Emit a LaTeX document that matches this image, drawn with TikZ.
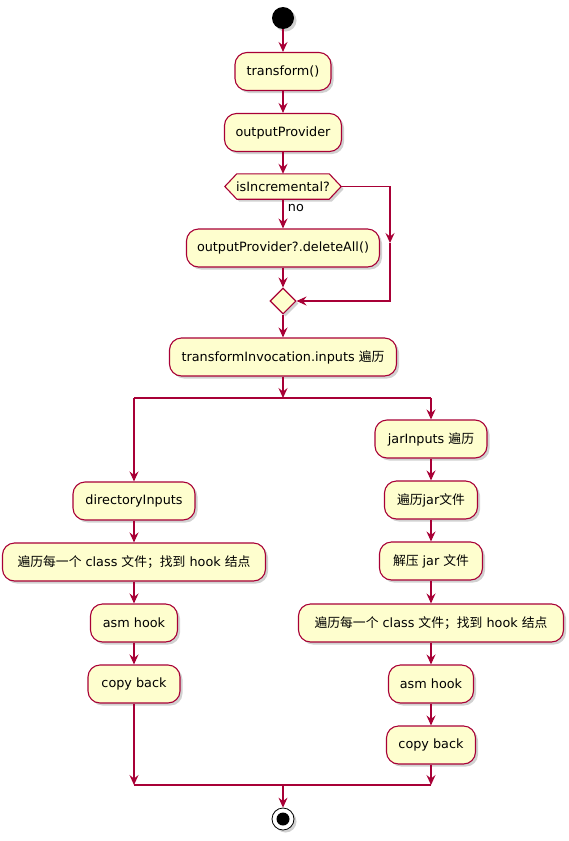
\documentclass[tikz,border=0pt]{standalone}
\usepackage{fontspec}
\setmainfont{DejaVu Sans}
\newfontfamily\cjk{Noto Sans CJK SC}
\usetikzlibrary{arrows.meta,shapes.geometric,shadows,calc}
\definecolor{umlfill}{HTML}{FEFECE}
\definecolor{umlline}{HTML}{A80036}
\pgfdeclarelayer{bg}
\pgfsetlayers{bg,main}
\tikzset{
  x=1pt,y=1pt,
  txt/.style={font=\fontsize{12.8}{14}\selectfont},
  shad/.style={drop shadow={shadow xshift=2.5pt,shadow yshift=-2.5pt,fill=black!40,opacity=0.45}},
  act/.style={draw=umlline,fill=umlfill,line width=1.1pt,rounded corners=12pt,
    minimum height=38pt,inner sep=0pt,txt,shad},
  arr/.style={draw=umlline,line width=1.1pt,-{Stealth[length=10pt,width=9pt,inset=3.5pt]}},
  ln/.style={draw=umlline,line width=1.1pt},
}
\begin{document}
\begin{tikzpicture}
\useasboundingbox (0,0) rectangle (569,-841);
% start
\node[circle,fill=black,minimum size=22pt,inner sep=0pt,shad] (start) at (283,-18) {};
\node[act,minimum width=96pt] (t) at (283,-71.5) {transform()};
\node[act,minimum width=117pt] (op) at (283,-132.5) {outputProvider};
% decision hexagon
\node[minimum width=116pt,minimum height=25pt,inner sep=0pt,txt] (dec) at (283,-186.5) {isIncremental?};
\begin{pgfonlayer}{bg}
\filldraw[draw=umlline,fill=umlfill,line width=1.1pt,shad]
  (dec.west) -- ($(dec.north west)+(12,0)$) -- ($(dec.north east)+(-12,0)$) -- (dec.east)
  -- ($(dec.south east)+(-12,0)$) -- ($(dec.south west)+(12,0)$) -- cycle;
\end{pgfonlayer}
\node[act,minimum width=193pt] (del) at (283,-248) {outputProvider?.deleteAll()};
\node[diamond,draw=umlline,fill=umlfill,line width=1.1pt,minimum width=26pt,minimum height=26pt,inner sep=0pt,shad] (merge) at (283,-301) {};
\node[act,minimum width=227pt] (ti) at (283,-357) {transformInvocation.inputs {\cjk 遍历}};
% left branch
\node[act,minimum width=122pt] (di) at (134,-501) {directoryInputs};
\node[act,minimum width=263pt] (l2) at (134,-562) {{\cjk 遍历每一个} class {\cjk 文件；找到} hook {\cjk 结点}};
\node[act,minimum width=87pt] (l3) at (134,-623) {asm hook};
\node[act,minimum width=92pt] (l4) at (134,-684) {copy back};
% right branch
\node[act,minimum width=112pt] (r1) at (431,-439) {jarInputs {\cjk 遍历}};
\node[act,minimum width=93pt] (r2) at (431,-500) {{\cjk 遍历}jar{\cjk 文件}};
\node[act,minimum width=103pt] (r3) at (431,-561) {{\cjk 解压} jar {\cjk 文件}};
\node[act,minimum width=265pt] (r4) at (431,-623) {{\cjk 遍历每一个} class {\cjk 文件；找到} hook {\cjk 结点}};
\node[act,minimum width=85pt] (r5) at (431,-684) {asm hook};
\node[act,minimum width=89pt] (r6) at (431,-745) {copy back};
% end
\node[circle,draw=black,fill=white,line width=0.8pt,minimum size=22pt,inner sep=0pt,shad] (end) at (283,-819) {};
\node[circle,fill=black,minimum size=13pt,inner sep=0pt] (endin) at (end) {};
% coordinates
\coordinate (rmid) at (390,-243);
\coordinate (fork) at (283,-398);
\coordinate (forkL) at (134,-398);
\coordinate (forkR) at (431,-398);
\coordinate (joinL) at (134,-785);
\coordinate (joinR) at (431,-785);
\coordinate (join) at (283,-785);
% connectors
\draw[arr] (start) -- (t);
\draw[arr] (t) -- (op);
\draw[arr] (op) -- (dec.north);
\draw[arr] (dec.south) -- node[pos=0.3,right=1pt,txt]{no} (del);
\draw[arr] (dec.east) -| (rmid);
\draw[arr] (rmid) |- (merge.east);
\draw[arr] (del) -- (merge.north);
\draw[arr] (merge.south) -- (ti);
\draw[arr] (ti) -- (fork);
\draw[ln] (forkL) -- (forkR);
\draw[arr] (forkL) -- (di);
\draw[arr] (forkR) -- (r1);
\draw[arr] (di) -- (l2);
\draw[arr] (l2) -- (l3);
\draw[arr] (l3) -- (l4);
\draw[arr] (r1) -- (r2);
\draw[arr] (r2) -- (r3);
\draw[arr] (r3) -- (r4);
\draw[arr] (r4) -- (r5);
\draw[arr] (r5) -- (r6);
\draw[arr] (l4) -- (joinL);
\draw[arr] (r6) -- (joinR);
\draw[ln] (joinL) -- (joinR);
\draw[arr] (join) -- (end);
\end{tikzpicture}
\end{document}
